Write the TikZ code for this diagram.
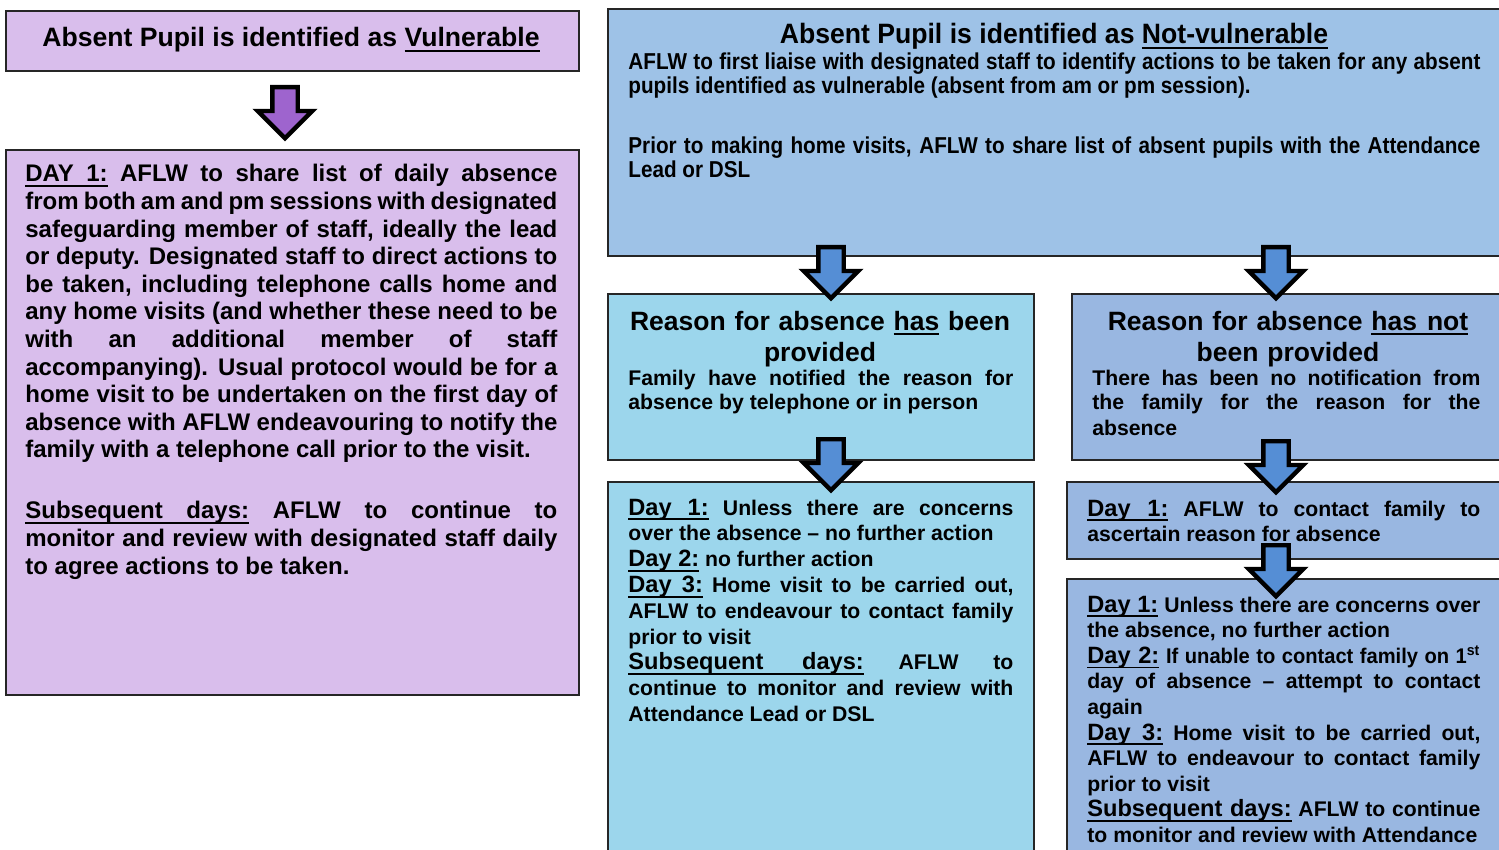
\documentclass[tikz,border=0pt]{standalone}
\usepackage{fontspec}
\setmainfont{Liberation Sans}
\newfontfamily\narrowfont{Liberation Sans}[FakeStretch=0.9]
\newfontfamily\titlefont{Liberation Sans}[FakeStretch=0.95]
\newfontfamily\condensedfont{Liberation Sans}[FakeStretch=0.95]
\usetikzlibrary{shapes.arrows}

\definecolor{purpleBox}{RGB}{217,190,236}
\definecolor{purpleArrow}{RGB}{158,100,206}
\definecolor{topBlue}{RGB}{158,194,231}
\definecolor{cyanBox}{RGB}{156,214,236}
\definecolor{sideBlue}{RGB}{153,183,225}
\definecolor{arrowBlue}{RGB}{85,142,213}

% underlined words and stretchable underlined gaps
\newcommand{\dayul}[1]{\leavevmode\setbox0\hbox{#1}\rlap{\rule[-2.6pt]{\wd0}{0.9pt}}\box0\relax}
\newcommand{\ulgap}{\leaders\hrule height -1.7pt depth 2.6pt\hskip\fontdimen2\font plus\fontdimen3\font minus\fontdimen4\font}
\newcommand{\daylab}[1]{{\fontsize{11.8}{11.8}\selectfont #1}}
\hbadness=10000

\begin{document}
\begin{tikzpicture}[x=0.5pt, y=-0.5pt]
    \tikzset{
        box/.style={rectangle, draw=black!85, line width=0.8pt, anchor=north west, inner sep=0pt},
        downarrow/.style={
            single arrow, draw=black, line width=2.2pt,
            shape border rotate=270,
            minimum height=25.5pt, minimum width=25pt,
            single arrow head extend=7.25pt, single arrow head indent=0pt,
            inner sep=5.25pt, anchor=tail,
        },
        bodytext/.style={anchor=base west, inner sep=0pt, align=justify,
            font=\bfseries\fontsize{10.6}{12.9}\selectfont},
        titletext/.style={anchor=base, inner sep=0pt, align=center,
            font=\bfseries\fontsize{13.25}{15.5}\selectfont},
    }
    \clip (0,0) rectangle (1499,850);
    \fill[white] (0,0) rectangle (1499,850);

    % Boxes
    \node[box, fill=purpleBox, minimum width=286.5pt, minimum height=30pt]    (vulnTitle)   at (5,10)    {};
    \node[box, fill=purpleBox, minimum width=286.5pt, minimum height=272.5pt] (vulnBody)    at (5,149)   {};
    \node[box, fill=topBlue,   minimum width=449pt,   minimum height=123.5pt] (notVuln)     at (607,8)   {};
    \node[box, fill=cyanBox,   minimum width=213pt,   minimum height=83pt]    (reasonGiven) at (607,293) {};
    \node[box, fill=sideBlue,  minimum width=217pt,   minimum height=83pt]    (reasonNone)  at (1071,293) {};
    \node[box, fill=cyanBox,   minimum width=213pt,   minimum height=189.5pt] (givenDays)   at (607,481) {};
    \node[box, fill=sideBlue,  minimum width=219.5pt, minimum height=38.5pt]  (noneDayOne)  at (1066,481) {};
    \node[box, fill=sideBlue,  minimum width=219.5pt, minimum height=141pt]   (noneDays)    at (1066,578) {};

    % Texts
    \node[titletext, font=\bfseries\fontsize{13.3}{15}\selectfont] (vulnTitleText) at (291,47)
        {Absent Pupil is identified as \dayul{Vulnerable}};
    \node[bodytext, text width=266pt, font=\bfseries\fontsize{12}{13.8}\selectfont] (vulnBodyText) at (25,182)
        {\dayul{DAY}\ulgap\dayul{1:} AFLW to share list of daily absence\linebreak
        from both am and pm sessions with designated\linebreak
        safeguarding member of staff, ideally the lead\linebreak
        or deputy. Designated staff to direct actions to\linebreak
        be taken, including telephone calls home and\linebreak
        any home visits (and whether these need to be\linebreak
        with an additional member of staff\linebreak
        accompanying). Usual protocol would be for a\linebreak
        home visit to be undertaken on the first day of\linebreak
        absence with AFLW endeavouring to notify the\linebreak
        family with a telephone call prior to the visit.\par\vspace{16.7pt}
        \dayul{Subsequent}\ulgap\dayul{days:} AFLW to continue to\linebreak
        monitor and review with designated staff daily\linebreak
        to agree actions to be taken.};

    \node[titletext, font=\titlefont\bfseries\fontsize{14}{15}\selectfont] (notVulnTitle) at (1054,44)
        {Absent Pupil is identified as \dayul{Not-vulnerable}};
    \node[bodytext, text width=426pt, font=\narrowfont\bfseries\fontsize{11.5}{12}\selectfont] (notVulnText) at (628,70)
        {AFLW to first liaise with designated staff to identify actions to be taken for any absent\linebreak
        pupils identified as vulnerable (absent from am or pm session).\par\vspace{18pt}
        Prior to making home visits, AFLW to share list of absent pupils with the Attendance\linebreak
        Lead or DSL};

    \node[titletext, text width=213pt] (givenTitle) at (820,330)
        {Reason for absence \dayul{has} been\\provided};
    \node[bodytext, text width=192.5pt, font=\bfseries\fontsize{10.6}{12.5}\selectfont] (givenText) at (628,385)
        {Family have notified the reason for\linebreak absence by telephone or in person};

    \node[titletext, text width=217pt] (noneTitle) at (1288,330)
        {Reason for absence \dayul{has}\ulgap\dayul{not}\\been provided};
    \node[bodytext, text width=194pt, font=\bfseries\fontsize{10.6}{12.5}\selectfont] (noneText) at (1092,385)
        {There has been no notification from\linebreak the family for the reason for the\linebreak absence};

    \node[bodytext, text width=192.5pt] (givenDaysText) at (628,515)
        {\daylab{\dayul{Day}\ulgap\dayul{1:}} Unless there are concerns\linebreak
        over the absence -- no further action\par
        \daylab{\dayul{Day}\ulgap\dayul{2:}} no further action\par
        \daylab{\dayul{Day}\ulgap\dayul{3:}} Home visit to be carried out,\linebreak
        AFLW to endeavour to contact family\linebreak
        prior to visit\par
        \daylab{\dayul{Subsequent}\ulgap\dayul{days:}} AFLW to\linebreak
        continue to monitor and review with\linebreak
        Attendance Lead or DSL};

    \node[bodytext, text width=196.5pt] (noneDayOneText) at (1087,516)
        {\daylab{\dayul{Day}\ulgap\dayul{1:}} AFLW to contact family to\linebreak
        ascertain reason for absence};

    \node[bodytext, text width=196.5pt, font=\bfseries\fontsize{10.6}{12.8}\selectfont] (noneDaysText) at (1087,612)
        {\daylab{\dayul{Day}\ulgap\dayul{1:}} Unless there are concerns over\linebreak
        the absence, no further action\par
        \daylab{\dayul{Day}\ulgap\dayul{2:}} {\condensedfont If unable to contact family on 1\textsuperscript{st}}\linebreak
        day of absence -- attempt to contact\linebreak
        again\par
        \daylab{\dayul{Day}\ulgap\dayul{3:}} Home visit to be carried out,\linebreak
        AFLW to endeavour to contact family\linebreak
        prior to visit\par
        \daylab{\dayul{Subsequent}\ulgap\dayul{days:}} AFLW to continue\linebreak
        to monitor and review with Attendance};

    % Arrows
    \node[downarrow, fill=purpleArrow] (arrVuln)      at (285,85)   {};
    \node[downarrow, fill=arrowBlue]   (arrGiven)     at (831,245)  {};
    \node[downarrow, fill=arrowBlue]   (arrNone)      at (1276,245) {};
    \node[downarrow, fill=arrowBlue]   (arrGivenDays) at (831,437)  {};
    \node[downarrow, fill=arrowBlue]   (arrNoneDay)   at (1276,439) {};
    \node[downarrow, fill=arrowBlue]   (arrNoneDays)  at (1276,543) {};
\end{tikzpicture}
\end{document}
